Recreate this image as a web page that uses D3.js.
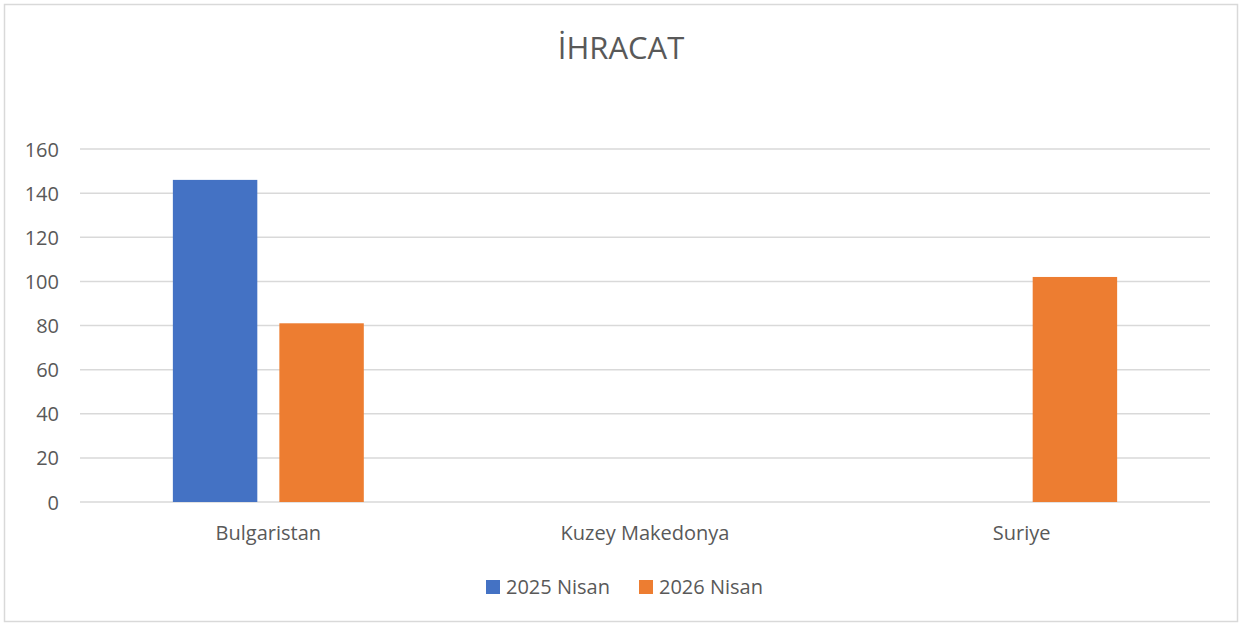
<!DOCTYPE html>
<html>
<head>
<meta charset="utf-8" />
<title>İHRACAT</title>
<script src="https://d3js.org/d3.v7.min.js"></script>
<style>
    body { margin: 0; background: #fff; }
    text { font-family: "Open Sans", "Noto Sans", sans-serif; fill: #595959; }
</style>
</head>
<body>
<div id="chart"></div>
<script>
    var categories = ["Bulgaristan", "Kuzey Makedonya", "Suriye"];
    var seriesNames = ["2025 Nisan", "2026 Nisan"];
    var values2025 = [146, null, null];
    var values2026 = [81, null, 102];
    var yTicks = [0, 20, 40, 60, 80, 100, 120, 140, 160];
    var colors = ["#4472c4", "#ed7d31"];

    var W = 1242, H = 625;
    var plotLeft = 80, plotRight = 1210, plotTop = 149, plotBottom = 502;

    var svg = d3.select("#chart").append("svg")
        .attr("width", W)
        .attr("height", H);

    // chart frame
    svg.append("rect")
        .attr("x", 4.5).attr("y", 4.5)
        .attr("width", 1233).attr("height", 617)
        .attr("fill", "#fff")
        .attr("stroke", "#d9d9d9")
        .attr("stroke-width", 1.5);

    var x0 = d3.scaleBand().domain(categories).range([plotLeft, plotRight]).paddingInner(0).paddingOuter(0);
    var x1 = d3.scaleBand().domain(seriesNames).range([0, x0.bandwidth()]).paddingInner(0.207).paddingOuter(0.872);
    var y = d3.scaleLinear().domain([0, 160]).range([plotBottom, plotTop]);

    // gridlines
    svg.append("g")
        .selectAll("line")
        .data(yTicks)
        .enter().append("line")
        .attr("x1", plotLeft).attr("x2", plotRight)
        .attr("y1", function(d) { return y(d); })
        .attr("y2", function(d) { return y(d); })
        .attr("stroke", "#d9d9d9")
        .attr("stroke-width", 1.5);

    // y axis labels
    var yAxis = d3.axisLeft(y).tickValues(yTicks).tickSize(0).tickPadding(0);
    var ya = svg.append("g").attr("transform", "translate(59,0)").call(yAxis);
    ya.select(".domain").remove();
    ya.selectAll("text").style("font-size", "20px").attr("fill", "#595959").attr("dy", "0.35em");

    // bars
    var rows = categories.map(function(c, i) {
        return [{ s: seriesNames[0], v: values2025[i], c: colors[0] },
                { s: seriesNames[1], v: values2026[i], c: colors[1] }];
    });
    svg.append("g")
        .selectAll("g")
        .data(rows)
        .enter().append("g")
        .attr("transform", function(d, i) { return "translate(" + x0(categories[i]) + ",0)"; })
        .selectAll("rect")
        .data(function(d) { return d.filter(function(e) { return e.v != null; }); })
        .enter().append("rect")
        .attr("x", function(d) { return x1(d.s); })
        .attr("width", x1.bandwidth())
        .attr("y", function(d) { return y(d.v); })
        .attr("height", function(d) { return y(0) - y(d.v); })
        .attr("fill", function(d) { return d.c; });

    // x axis labels
    var xAxis = d3.axisBottom(x0).tickSize(0).tickPadding(0);
    var xa = svg.append("g").attr("transform", "translate(0,540)").call(xAxis);
    xa.select(".domain").remove();
    xa.selectAll("text").style("font-size", "20px").attr("fill", "#595959").attr("dy", "0");

    // title
    svg.append("text")
        .attr("x", 621).attr("y", 59)
        .attr("text-anchor", "middle")
        .style("font-size", "31px")
        .text("İHRACAT");

    // legend
    var legend = svg.append("g");
    var legX = [486, 639];
    seriesNames.forEach(function(s, i) {
        legend.append("rect")
            .attr("x", legX[i]).attr("y", 580)
            .attr("width", 14).attr("height", 14)
            .attr("fill", colors[i]);
        legend.append("text")
            .attr("x", legX[i] + 20).attr("y", 594)
            .style("font-size", "20px")
            .text(s);
    });
</script>
</body>
</html>
